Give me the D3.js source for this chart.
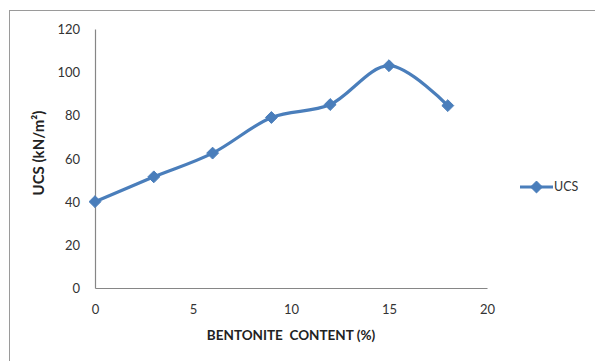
<!DOCTYPE html>
<html>
<head>
<meta charset="utf-8">
<script src="https://cdn.jsdelivr.net/npm/d3@7"></script>
<style>
  html, body { margin: 0; padding: 0; background: #fff; }
  svg text { font-family: Lato, "Open Sans", "Liberation Sans", sans-serif; }
</style>
</head>
<body>
<svg id="chart" width="595" height="361"></svg>
<script>
// Bentonite content (%) and unconfined compressive strength (kN/m²)
const bentonite = [0, 3, 6, 9, 12, 15, 18];
const ucs = [40, 51.5, 62.5, 79, 85, 103, 84.5];
const xTicks = [0, 5, 10, 15, 20];
const yTicks = [0, 20, 40, 60, 80, 100, 120];
const seriesName = "UCS";

const svg = d3.select("#chart");
const blue = "#4a7ebb";
const axisGrey = "#868686";

// chart area frame
svg.append("rect")
  .attr("x", 9.5).attr("y", 10.5)
  .attr("width", 600).attr("height", 360)
  .attr("fill", "none").attr("stroke", "#9a9a9a").attr("stroke-width", 1);

const x = d3.scaleLinear().domain([0, 20]).range([95, 487]);
const y = d3.scaleLinear().domain([0, 120]).range([288, 29]);

// axes
const xAxis = svg.append("g").attr("transform", `translate(0,${y(0)})`)
  .call(d3.axisBottom(x).tickValues(xTicks).tickSize(0).tickPadding(17));
const yAxis = svg.append("g").attr("transform", `translate(${x(0)},0)`)
  .call(d3.axisLeft(y).tickValues(yTicks).tickSize(0).tickPadding(15));

[xAxis, yAxis].forEach(g => {
  g.select(".domain").attr("stroke", axisGrey).attr("stroke-width", 1.2);
  g.selectAll("text").attr("fill", "#333").attr("font-size", 13)
    .attr("font-family", "Lato, 'Open Sans', sans-serif");
});
yAxis.selectAll("text").attr("dy", "0.35em");

// axis titles
svg.append("text")
  .attr("x", 291).attr("y", 340)
  .attr("text-anchor", "middle")
  .attr("font-size", 13.5).attr("font-weight", "bold").attr("fill", "#222")
  .attr("xml:space", "preserve")
  .text("BENTONITE  CONTENT (%)");

svg.append("text")
  .attr("transform", "translate(44,153) rotate(-90)")
  .attr("text-anchor", "middle")
  .attr("font-size", 15).attr("font-weight", "bold").attr("fill", "#222")
  .text("UCS (kN/m²)");

// smoothed series line
const pts = bentonite.map((b, i) => [b, ucs[i]]);
const line = d3.line()
  .x(d => x(d[0])).y(d => y(d[1]))
  .curve(d3.curveCardinal.tension(0));

svg.append("path")
  .datum(pts)
  .attr("d", line)
  .attr("fill", "none")
  .attr("stroke", blue)
  .attr("stroke-width", 3.2)
  .attr("stroke-linejoin", "round");

// diamond markers
const diamond = d3.symbol().type(d3.symbolDiamond2).size(90);
svg.selectAll(".marker")
  .data(pts)
  .join("path")
  .attr("class", "marker")
  .attr("transform", d => `translate(${x(d[0])},${y(d[1])})`)
  .attr("d", diamond)
  .attr("fill", blue)
  .attr("stroke", blue)
  .attr("stroke-width", 1);

// legend
const lg = svg.append("g").attr("transform", "translate(520,187)");
lg.append("line").attr("x1", 0).attr("x2", 33).attr("y1", 0).attr("y2", 0)
  .attr("stroke", blue).attr("stroke-width", 3.2);
lg.append("path").attr("transform", "translate(16.5,0)")
  .attr("d", diamond).attr("fill", blue).attr("stroke", blue);
lg.append("text").attr("x", 34).attr("y", 0).attr("dy", "0.35em")
  .attr("font-size", 12.5).attr("fill", "#333").text(seriesName);
</script>
</body>
</html>
